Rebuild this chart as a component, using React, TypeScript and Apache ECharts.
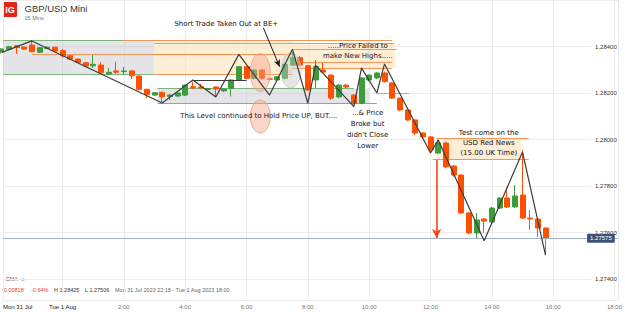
import React, { useEffect, useRef } from 'react';
import * as echarts from 'echarts';

// 15-minute candles, Mon 31 Jul 22:00 -> Tue 1 Aug 15:45
const candleTimes = [
  '22:00','22:15','22:30','22:45','23:00','23:15','23:30','23:45',
  '00:00','00:15','00:30','00:45','01:00','01:15','01:30','01:45',
  '02:00','02:15','02:30','02:45','03:00','03:15','03:30','03:45',
  '04:00','04:15','04:30','04:45','05:00','05:15','05:30','05:45',
  '06:00','06:15','06:30','06:45','07:00','07:15','07:30','07:45',
  '08:00','08:15','08:30','08:45','09:00','09:15','09:30','09:45',
  '10:00','10:15','10:30','10:45','11:00','11:15','11:30','11:45',
  '12:00','12:15','12:30','12:45','13:00','13:15','13:30','13:45',
  '14:00','14:15','14:30','14:45','15:00','15:15','15:30','15:45',
];
const opens = [
  1.28376,1.28388,1.28403,1.28398,1.28406,1.28375,1.28392,1.28397,
  1.28382,1.28360,1.28346,1.28330,1.28317,1.28320,1.28282,1.28295,
  1.28292,1.28295,1.28273,1.28216,1.28191,1.28203,1.28185,1.28187,
  1.28191,1.28227,1.28226,1.28215,1.28226,1.28209,1.28220,1.28256,
  1.28313,1.28263,1.28299,1.28261,1.28256,1.28263,1.28320,1.28352,
  1.28317,1.28256,1.28299,1.28277,1.28183,1.28234,1.28191,1.28156,
  1.28256,1.28265,1.28286,1.28243,1.28178,1.28127,1.28084,1.28028,
  1.28011,1.27942,1.27985,1.27886,1.27847,1.27684,1.27598,1.27658,
  1.27645,1.27705,1.27748,1.27710,1.27761,1.27662,1.27658,1.27619,
];
const closes = [
  1.28389,1.28399,1.28395,1.28389,1.28378,1.28395,1.28397,1.28381,
  1.28360,1.28346,1.28332,1.28316,1.28323,1.28287,1.28289,1.28289,
  1.28295,1.28274,1.28216,1.28194,1.28201,1.28184,1.28191,1.28200,
  1.28234,1.28223,1.28222,1.28219,1.28217,1.28217,1.28256,1.28313,
  1.28263,1.28299,1.28263,1.28259,1.28270,1.28323,1.28352,1.28320,
  1.28213,1.28313,1.28290,1.28178,1.28234,1.28226,1.28156,1.28265,
  1.28277,1.28286,1.28249,1.28178,1.28127,1.28084,1.28028,1.28011,
  1.27955,1.27985,1.27882,1.27847,1.27684,1.27598,1.27654,1.27649,
  1.27705,1.27748,1.27710,1.27757,1.27662,1.27658,1.27619,1.27575,
];
const lows = [
  1.28370,1.28384,1.28368,1.28385,1.28375,1.28372,1.28389,1.28378,
  1.28352,1.28342,1.28329,1.28312,1.28308,1.28283,1.28278,1.28282,
  1.28277,1.28260,1.28212,1.28178,1.28187,1.28161,1.28170,1.28183,
  1.28187,1.28217,1.28218,1.28212,1.28183,1.28205,1.28185,1.28252,
  1.28260,1.28258,1.28258,1.28254,1.28250,1.28258,1.28316,1.28316,
  1.28209,1.28222,1.28286,1.28170,1.28178,1.28222,1.28150,1.28152,
  1.28250,1.28260,1.28245,1.28174,1.28122,1.28080,1.28019,1.28005,
  1.27950,1.27938,1.27876,1.27840,1.27680,1.27594,1.27576,1.27598,
  1.27640,1.27700,1.27705,1.27705,1.27658,1.27611,1.27581,1.27506,
];
const highs = [
  1.28392,1.28403,1.28405,1.28400,1.28425,1.28397,1.28400,1.28399,
  1.28389,1.28363,1.28349,1.28333,1.28363,1.28333,1.28308,1.28335,
  1.28312,1.28297,1.28275,1.28218,1.28204,1.28205,1.28194,1.28203,
  1.28236,1.28249,1.28240,1.28222,1.28229,1.28220,1.28258,1.28316,
  1.28316,1.28302,1.28302,1.28266,1.28273,1.28326,1.28376,1.28360,
  1.28320,1.28342,1.28329,1.28280,1.28238,1.28240,1.28195,1.28268,
  1.28280,1.28290,1.28292,1.28247,1.28180,1.28130,1.28086,1.28032,
  1.28015,1.28000,1.27990,1.27890,1.27850,1.27688,1.27684,1.27662,
  1.27710,1.27752,1.27796,1.27804,1.27955,1.27697,1.27662,1.27622,
];
const lastPrice = 1.27575;

// hand-drawn zig-zag swing line
const swingTimes = ['22:00','23:00','03:15','04:15','05:00','05:45','06:45','07:30','08:00','08:15','09:30','09:45','10:15','10:30','12:00','12:15','13:45','15:00','15:45'];
const swingPrices = [1.28373,1.28424,1.28157,1.28256,1.28183,1.28366,1.28191,1.28388,1.28156,1.28320,1.28141,1.28308,1.28200,1.28325,1.27942,1.27998,1.27565,1.27946,1.27503];

// annotation geometry in chart values (hours from Tue 00:00, price)
const greenLevels = [[-1.94, 2.0, 1.28428], [-1.94, 3.0, 1.28282], [3.1, 9.5, 1.28220], [3.1, 10.25, 1.28155]];
const orangeLevels = [
  [2.0, 10.75, 1.28428], [3.0, 10.8, 1.28413], [-1.0, 7.5, 1.28368], [3.0, 7.5, 1.28282],
  [7.5, 10.9, 1.28388], [7.5, 10.75, 1.28333], [7.5, 10.75, 1.28308], [10.25, 11.3, 1.282],
  [12.2, 15.2, 1.28006], [12.07, 15.2, 1.27916],
];
const grayZones = [[-1.94, 3.0, 1.28428, 1.28282], [3.1, 10.0, 1.2822, 1.28155]];
const peachZones = [[3.0, 7.5, 1.28428, 1.28282], [7.5, 10.85, 1.28413, 1.28308], [12.2, 14.95, 1.28006, 1.27916]];
const shelfLine = [4.25, 6.0, 1.28256];
const blackArrow = [6.55, 1.2848, 7.08, 1.28313];
const redArrow = [12.2, 1.27912, 12.2, 1.27576];
const bubbleCenters = [[6.45, 1.28288], [7.45, 1.28297], [6.45, 1.28099]];
const noteAnchors = [
  [5.34, 1.28497], [9.63, 1.28404], [9.63, 1.28358], [6.4, 1.28101],
  [9.95, 1.28114], [9.95, 1.28067], [9.95, 1.28019], [9.95, 1.27972],
  [13.9, 1.2803], [13.9, 1.27985], [13.9, 1.2794],
];
const noteTexts = [
  'Short Trade Taken Out at BE+', '.....Price Failed to', 'make New Highs.....',
  'This Level continued to Hold Price UP, BUT....',
  '...& Price', 'Broke but', "didn't Close", 'Lower',
  'Test come on the', 'USD Red News', '(15.00 UK Time)',
];

const X_MIN = -1.9405, X_MAX = 18.106;
const Y_MAX = 1.286, Y_MIN = 1.2730968;

const UP = '#3c9c3c', DOWN = '#ff5000';
const GREEN_LINE = '#7db67d', ORANGE_LINE = '#f5955a';
const FONT = '"Liberation Sans", Arial, sans-serif';
const NOTE_FONT = '7px "DejaVu Sans", sans-serif';
const bubbleStyles = [
  { rx: 10, ry: 19, fill: 'rgba(248,165,135,0.45)', stroke: '#f19a7c' },
  { rx: 10, ry: 17.5, fill: 'rgba(200,200,200,0.45)', stroke: '#c4c4c4' },
  { rx: 10, ry: 16.5, fill: 'rgba(248,165,135,0.45)', stroke: '#f19a7c' },
];

const toHours = (t: string) => {
  const [h, m] = t.split(':').map(Number);
  const v = h + m / 60;
  return v >= 20 ? v - 24 : v;
};

export default function App() {
  const ref = useRef<HTMLDivElement>(null);
  useEffect(() => {
    if (!ref.current) return;
    const chart = echarts.init(ref.current, undefined, { renderer: 'svg' });
    const candles = candleTimes.map((t, i) => [toHours(t), opens[i], closes[i], lows[i], highs[i]]);
    const swing = swingTimes.map((t, i) => [toHours(t), swingPrices[i]]);

    const seg = (a: number, b: number, p: number, color: string) => [
      { coord: [a, p], lineStyle: { color, width: 1.2, type: 'solid' } },
      { coord: [b, p] },
    ];
    const zone = (z: number[], color: string) => [
      { coord: [z[0], z[2]], itemStyle: { color } },
      { coord: [z[1], z[3]] },
    ];

    const txt = (x: number, y: number, text: string, fill: string, font: string, align = 'left') => ({
      type: 'text', x, y, silent: true,
      style: { text, fill, font, align, verticalAlign: 'middle' },
    });

    const option: any = {
      animation: false,
      backgroundColor: '#ffffff',
      grid: { left: 0, right: 0, top: 0, bottom: 12 },
      xAxis: {
        type: 'value', min: X_MIN, max: X_MAX, splitNumber: 10,
        axisLine: { show: false }, axisTick: { show: false },
        splitLine: { show: true, lineStyle: { color: '#ececec', width: 1 } },
        axisLabel: {
          fontSize: 6, color: '#777', margin: 4, fontFamily: FONT,
          showMinLabel: true, showMaxLabel: false, alignMinLabel: 'left',
          formatter: (v: number) => {
            if (v < -1) return '{d|Mon 31 Jul}';
            const r = Math.round(v);
            if (r === 0) return '{d|Tue 1 Aug}';
            return r + ':00';
          },
          rich: { d: { color: '#222', fontSize: 6, fontFamily: FONT } },
        },
      },
      yAxis: {
        type: 'value', position: 'right', min: Y_MIN, max: Y_MAX, splitNumber: 6,
        axisLine: { show: false }, axisTick: { show: false },
        splitLine: { show: true, lineStyle: { color: '#ececec', width: 1 } },
        axisLabel: {
          inside: true, fontSize: 6, color: '#333', margin: 0, fontFamily: FONT,
          showMinLabel: false, showMaxLabel: false,
          formatter: (v: number) => v.toFixed(5),
          backgroundColor: '#ffffff', padding: [1, 1, 1, 4],
        },
      },
      graphic: [
        { type: 'rect', x: 3, y: 2, shape: { width: 14, height: 15, r: 1 }, style: { fill: '#e3241b' }, silent: true },
        txt(10, 9.8, 'IG', '#ffffff', `bold 9px ${FONT}`, 'center'),
        txt(24.5, 8.5, 'GBP/USD Mini', '#333333', `9.5px ${FONT}`),
        txt(24.5, 17.5, '15 Mins', '#777777', `5.5px ${FONT}`),
        txt(6, 279, 'EMA', '#666666', `5.5px ${FONT}`),
        txt(21, 279, '×', '#888888', `6.5px ${FONT}`),
        txt(2, 290, '-0.00818', '#e0392b', `5.5px ${FONT}`),
        txt(31, 290, '-0.64%', '#e0392b', `5.5px ${FONT}`),
        txt(54, 290, 'H 1.28425', '#333333', `5.5px ${FONT}`),
        txt(85, 290, 'L 1.27506', '#333333', `5.5px ${FONT}`),
        txt(115, 290, 'Mon 31 Jul 2023 22:15 - Tue 1 Aug 2023 18:00', '#666666', `5.5px ${FONT}`),
      ],
      series: [
        {
          name: 'zones', type: 'line', data: [], silent: true,
          markArea: {
            silent: true, z: 1,
            data: [
              ...grayZones.map((z) => zone(z, 'rgba(196,196,206,0.45)')),
              ...peachZones.map((z) => zone(z, 'rgba(253,226,186,0.6)')),
            ],
          },
          markLine: {
            silent: true, z: 1, symbol: ['none', 'none'], label: { show: false }, precision: 5,
            lineStyle: { type: 'solid' },
            data: [
              ...greenLevels.map(([a, b, p]) => seg(a, b, p, GREEN_LINE)),
              ...orangeLevels.map(([a, b, p]) => seg(a, b, p, ORANGE_LINE)),
            ],
          },
        },
        {
          name: 'GBP/USD', type: 'candlestick', z: 2,
          data: candles, encode: { x: 0, y: [1, 2, 3, 4] },
          barWidth: 5.5,
          itemStyle: { color: UP, color0: DOWN, borderColor: UP, borderColor0: DOWN, borderWidth: 1 },
          markLine: {
            silent: true, z: 3, symbol: ['none', 'none'], precision: 5,
            lineStyle: { color: '#a3b1c4', width: 1, type: 'solid' },
            label: {
              show: true, position: 'insideEnd', distance: 3,
              formatter: lastPrice.toFixed(5), color: '#ffffff', backgroundColor: '#3b5377',
              padding: [2, 3, 1, 3], borderRadius: 1, fontSize: 6, fontFamily: FONT,
            },
            data: [{ yAxis: lastPrice }],
          },
        },
        {
          name: 'bubbles', type: 'custom', z: 4, silent: true,
          data: bubbleCenters, encode: { x: 0, y: 1 },
          renderItem: (params: any, api: any) => {
            const s = bubbleStyles[params.dataIndex];
            const c = api.coord([api.value(0), api.value(1)]);
            return {
              type: 'ellipse',
              shape: { cx: c[0], cy: c[1], rx: s.rx, ry: s.ry },
              style: { fill: s.fill, stroke: s.stroke, lineWidth: 0.8 },
            };
          },
        },
        {
          name: 'swing', type: 'line', z: 5, data: swing, showSymbol: false, symbol: 'none',
          lineStyle: { color: '#3c3c3c', width: 1.2 }, silent: true,
          markLine: {
            silent: true, z: 5, symbol: ['none', 'none'], label: { show: false }, precision: 5,
            data: [
              [{ coord: [shelfLine[0], shelfLine[2]], lineStyle: { color: '#3c3c3c', width: 1.2, type: 'solid' } },
               { coord: [shelfLine[1], shelfLine[2]] }],
              [{ coord: [blackArrow[0], blackArrow[1]], lineStyle: { color: '#1a1a1a', width: 1, type: 'solid' } },
               { coord: [blackArrow[2], blackArrow[3]], symbol: 'arrow', symbolSize: [5, 7] }],
              [{ coord: [redArrow[0], redArrow[1]], lineStyle: { color: '#f4470f', width: 1.6, type: 'solid' } },
               { coord: [redArrow[2], redArrow[3]], symbol: 'arrow', symbolSize: [7, 9] }],
            ],
          },
        },
        {
          name: 'notes', type: 'custom', z: 6, silent: true,
          data: noteAnchors, encode: { x: 0, y: 1 },
          renderItem: (params: any, api: any) => {
            const c = api.coord([api.value(0), api.value(1)]);
            return {
              type: 'text', x: c[0], y: c[1],
              style: { text: noteTexts[params.dataIndex], fill: '#141414', font: NOTE_FONT, align: 'center', verticalAlign: 'middle' },
            };
          },
        },
      ],
    };
    chart.setOption(option);
    return () => chart.dispose();
  }, []);
  return <div ref={ref} style={{ position: 'fixed', left: 0, top: 0, width: 625, height: 312 }} />;
}
